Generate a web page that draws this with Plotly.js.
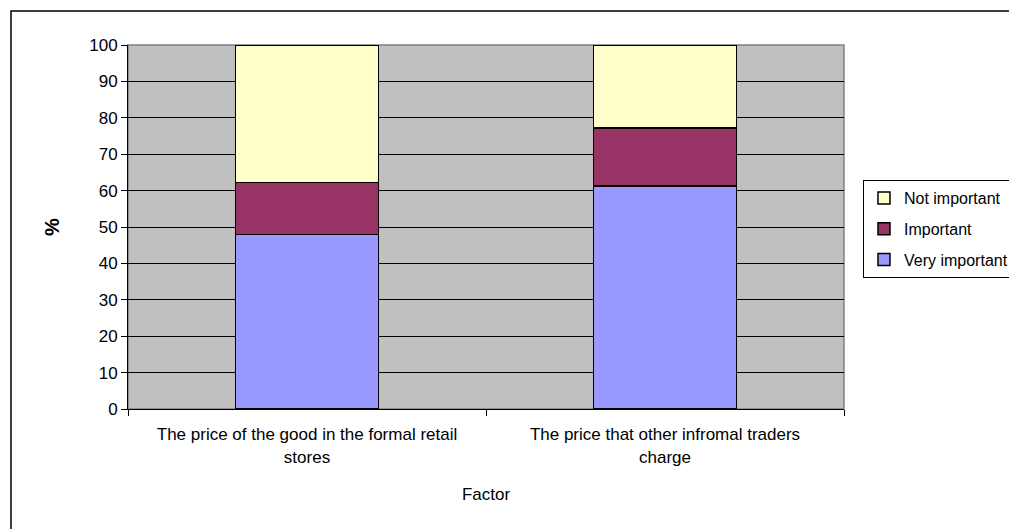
<!DOCTYPE html>
<html>
<head>
<meta charset="utf-8">
<script src="https://cdn.plot.ly/plotly-3.0.1.min.js"></script>
<style>
  html, body { margin: 0; padding: 0; background: #ffffff; }
  #chart { width: 1009px; height: 529px; overflow: hidden; }
</style>
</head>
<body>
<div id="chart"></div>
<script>
// Factors rated by respondents (percent of answers per factor)
const factors = [
  "The price of the good in the formal retail<br>stores",
  "The price that other infromal traders<br>charge"
];
const veryImportant = [48.0, 61.2];
const important = [14.2, 16.0];
const notImportant = [37.8, 22.8];
const yTicks = [0, 10, 20, 30, 40, 50, 60, 70, 80, 90, 100];

const FONT = "Liberation Sans, Arial, sans-serif";
const outline = { color: "#000000", width: 1.5 };

function series(name, values, color, rank) {
  return {
    type: "bar",
    name: name,
    x: factors,
    y: values,
    width: 0.4,
    legendgroup: name,
    legendrank: rank,
    marker: { color: color, line: outline },
    hoverinfo: "name+y"
  };
}

// stacked bottom to top; legend lists the top segment first
const traces = [
  series("Very important", veryImportant, "#9999FF", 3),
  series("Important", important, "#993366", 2),
  series("Not important", notImportant, "#FFFFCC", 1)
];

const layout = {
  width: 1009,
  height: 529,
  margin: { l: 128, r: 165, t: 45, b: 120, autoexpand: false },
  paper_bgcolor: "#ffffff",
  plot_bgcolor: "#C0C0C0",
  barmode: "stack",
  font: { family: FONT, size: 17, color: "#000000" },
  showlegend: true,
  legend: {
    x: 1.0265, y: 0.629, xanchor: "left", yanchor: "top",
    traceorder: "grouped",
    tracegroupgap: 7,
    bordercolor: "#000000", borderwidth: 1,
    bgcolor: "#ffffff",
    font: { family: FONT, size: 16 }
  },
  xaxis: {
    type: "category",
    tickson: "boundaries",
    ticks: "outside",
    ticklen: 6,
    tickcolor: "#000000",
    ticklabelstandoff: 10,
    showline: true,
    linecolor: "#000000",
    linewidth: 1,
    showgrid: false,
    zeroline: false,
    tickfont: { family: FONT, size: 17 },
    title: { text: "Factor", font: { family: FONT, size: 17 }, standoff: 22 }
  },
  yaxis: {
    range: [0, 100],
    tickvals: yTicks,
    ticktext: yTicks.map(String),
    ticks: "outside",
    ticklen: 6,
    tickcolor: "#000000",
    showline: true,
    linecolor: "#000000",
    linewidth: 1,
    showgrid: true,
    gridcolor: "#000000",
    gridwidth: 1,
    zeroline: false,
    tickfont: { family: FONT, size: 17 },
    title: { text: "<b>%</b>", font: { family: FONT, size: 20 }, standoff: 24 }
  },
  shapes: [
    // plot area frame
    { type: "rect", xref: "paper", yref: "paper", x0: 0, x1: 1, y0: 0, y1: 1,
      line: { color: "#808080", width: 1.5 }, layer: "below" },
    // outer chart border
    { type: "rect", xref: "paper", yref: "paper", x0: -0.1634, x1: 1.4, y0: -0.5, y1: 1.0934,
      line: { color: "#000000", width: 1.5 }, fillcolor: "rgba(0,0,0,0)" }
  ]
};

Plotly.newPlot("chart", traces, layout, { displayModeBar: false, staticPlot: true });
</script>
</body>
</html>
